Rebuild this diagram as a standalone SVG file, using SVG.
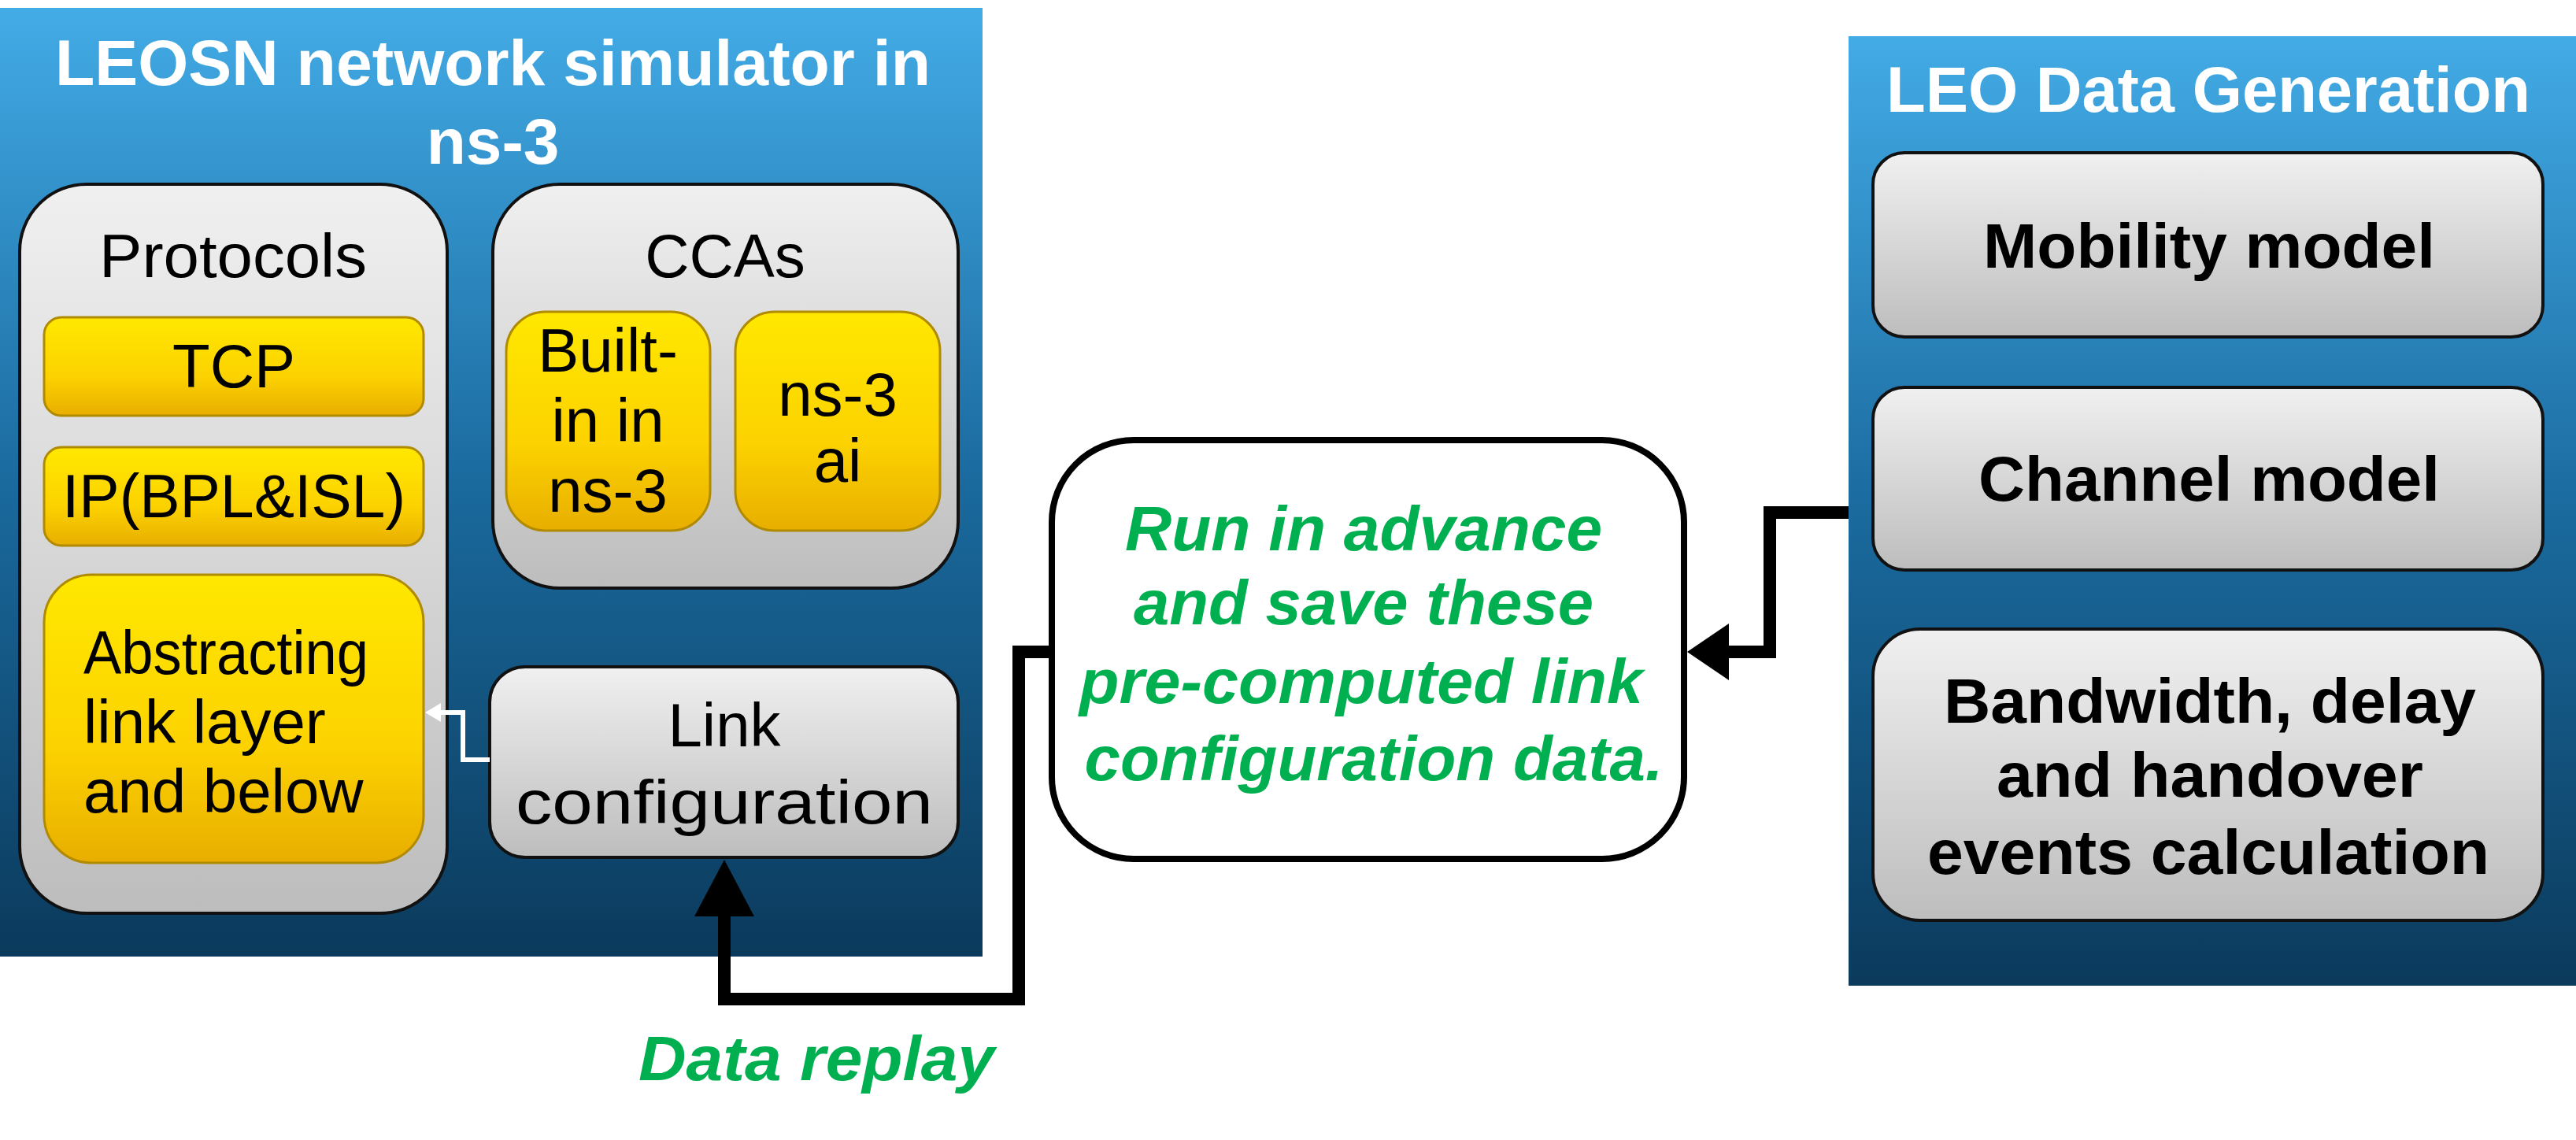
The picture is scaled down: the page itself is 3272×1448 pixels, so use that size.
<svg xmlns="http://www.w3.org/2000/svg" width="3272" height="1448" viewBox="0 0 3272 1448">
<defs>
<linearGradient id="blue" x1="0" y1="0" x2="0" y2="1"><stop offset="0" stop-color="#43ABE6"/><stop offset="0.5" stop-color="#1A6A9E"/><stop offset="1" stop-color="#0B3A5C"/></linearGradient>
<linearGradient id="gray" x1="0" y1="0" x2="0" y2="1"><stop offset="0" stop-color="#F0F0F0"/><stop offset="1" stop-color="#BDBDBD"/></linearGradient>
<linearGradient id="yel" x1="0" y1="0" x2="0" y2="1"><stop offset="0" stop-color="#FFE800"/><stop offset="0.6" stop-color="#FCD200"/><stop offset="1" stop-color="#E8AE00"/></linearGradient>
</defs>
<style>
.g{fill:url(#gray);stroke:#111;stroke-width:4}
.y{fill:url(#yel);stroke:#B08A00;stroke-width:3}
.t{font-family:"Liberation Sans",Arial,sans-serif;font-size:78px;fill:#000;text-anchor:middle}
.w{font-family:"Liberation Sans",Arial,sans-serif;font-weight:bold;font-size:82px;fill:#fff;text-anchor:middle}
.b{font-family:"Liberation Sans",Arial,sans-serif;font-weight:bold;font-size:80px;fill:#000;text-anchor:middle}
.gr{font-family:"Liberation Sans",Arial,sans-serif;font-weight:bold;font-style:italic;font-size:80px;fill:#00B050;text-anchor:middle}
</style>
<g id="leosn">
<rect x="0" y="10" width="1248" height="1205" fill="url(#blue)"/>
<text class="w" x="626" y="108" textLength="1112" lengthAdjust="spacingAndGlyphs">LEOSN network simulator in</text>
<text class="w" x="626" y="208">ns-3</text>
</g>
<g id="protocols">
<rect class="g" x="25" y="234" width="543" height="926" rx="85"/>
<text class="t" x="296" y="352" textLength="340" lengthAdjust="spacingAndGlyphs">Protocols</text>
</g>
<g id="tcp"><rect class="y" x="56" y="403" width="482" height="125" rx="22"/><text class="t" x="297" y="492">TCP</text></g>
<g id="ip"><rect class="y" x="56" y="568" width="482" height="125" rx="22"/><text class="t" x="297" y="657" textLength="436" lengthAdjust="spacingAndGlyphs">IP(BPL&amp;ISL)</text></g>
<g id="abstract"><rect class="y" x="56" y="730" width="482" height="366" rx="60"/>
<text class="t" x="106" y="856" style="text-anchor:start" textLength="362" lengthAdjust="spacingAndGlyphs">Abstracting</text>
<text class="t" x="106" y="944" style="text-anchor:start">link layer</text>
<text class="t" x="106" y="1032" style="text-anchor:start">and below</text></g>
<g id="ccas"><rect class="g" x="626" y="234" width="591" height="513" rx="85"/><text class="t" x="921" y="352">CCAs</text></g>
<g id="builtin"><rect class="y" x="643" y="396" width="259" height="278" rx="50"/>
<text class="t" x="772" y="472">Built-</text><text class="t" x="772" y="561">in in</text><text class="t" x="772" y="650">ns-3</text></g>
<g id="ns3ai"><rect class="y" x="934" y="396" width="260" height="278" rx="50"/>
<text class="t" x="1064" y="528">ns-3</text><text class="t" x="1064" y="612">ai</text></g>
<g id="linkcfg"><rect class="g" x="622" y="847" width="595" height="242" rx="45"/>
<text class="t" x="920" y="948">Link</text><text class="t" x="920" y="1046" textLength="530" lengthAdjust="spacingAndGlyphs">configuration</text></g>
<g id="leo">
<rect x="2348" y="46" width="924" height="1206" fill="url(#blue)"/>
<text class="w" x="2805" y="142" textLength="818" lengthAdjust="spacingAndGlyphs">LEO Data Generation</text>
</g>
<g id="mobility"><rect class="g" x="2379" y="194" width="851" height="234" rx="40"/><text class="b" x="2806" y="340" textLength="574" lengthAdjust="spacingAndGlyphs">Mobility model</text></g>
<g id="channel"><rect class="g" x="2379" y="492" width="851" height="232" rx="40"/><text class="b" x="2806" y="636" textLength="586" lengthAdjust="spacingAndGlyphs">Channel model</text></g>
<g id="bandwidth"><rect class="g" x="2379" y="799" width="851" height="370" rx="60"/>
<text class="b" x="2807" y="918" textLength="676" lengthAdjust="spacingAndGlyphs">Bandwidth, delay</text>
<text class="b" x="2807" y="1012" textLength="542" lengthAdjust="spacingAndGlyphs">and handover</text>
<text class="b" x="2805" y="1110" textLength="714" lengthAdjust="spacingAndGlyphs">events calculation</text></g>
<g id="precomputed"><rect x="1336" y="559" width="803" height="532" rx="104" fill="#fff" stroke="#000" stroke-width="8"/>
<text class="gr" x="1732" y="699" textLength="606" lengthAdjust="spacingAndGlyphs">Run in advance</text>
<text class="gr" x="1732" y="793" textLength="584" lengthAdjust="spacingAndGlyphs">and save these</text>
<text class="gr" x="1729" y="893" textLength="716" lengthAdjust="spacingAndGlyphs">pre-computed link</text>
<text class="gr" x="1745" y="991" textLength="735" lengthAdjust="spacingAndGlyphs">configuration data.</text></g>
<g id="connectors">
<polyline points="622,965 588,965 588,905 556,905" fill="none" stroke="#fff" stroke-width="6"/>
<polygon points="540,905 560,893 560,917" fill="#fff"/>
<polyline points="2348,651 2248,651 2248,828 2195,828" fill="none" stroke="#000" stroke-width="16"/>
<polygon points="2143,828 2196,792 2196,864" fill="#000"/>
<polyline points="1336,828 1294,828 1294,1269 920,1269 920,1150" fill="none" stroke="#000" stroke-width="16"/>
<polygon points="920,1092 882,1164 958,1164" fill="#000"/>
</g>
<text class="gr" x="1037" y="1372" textLength="452" lengthAdjust="spacingAndGlyphs">Data replay</text>
</svg>
